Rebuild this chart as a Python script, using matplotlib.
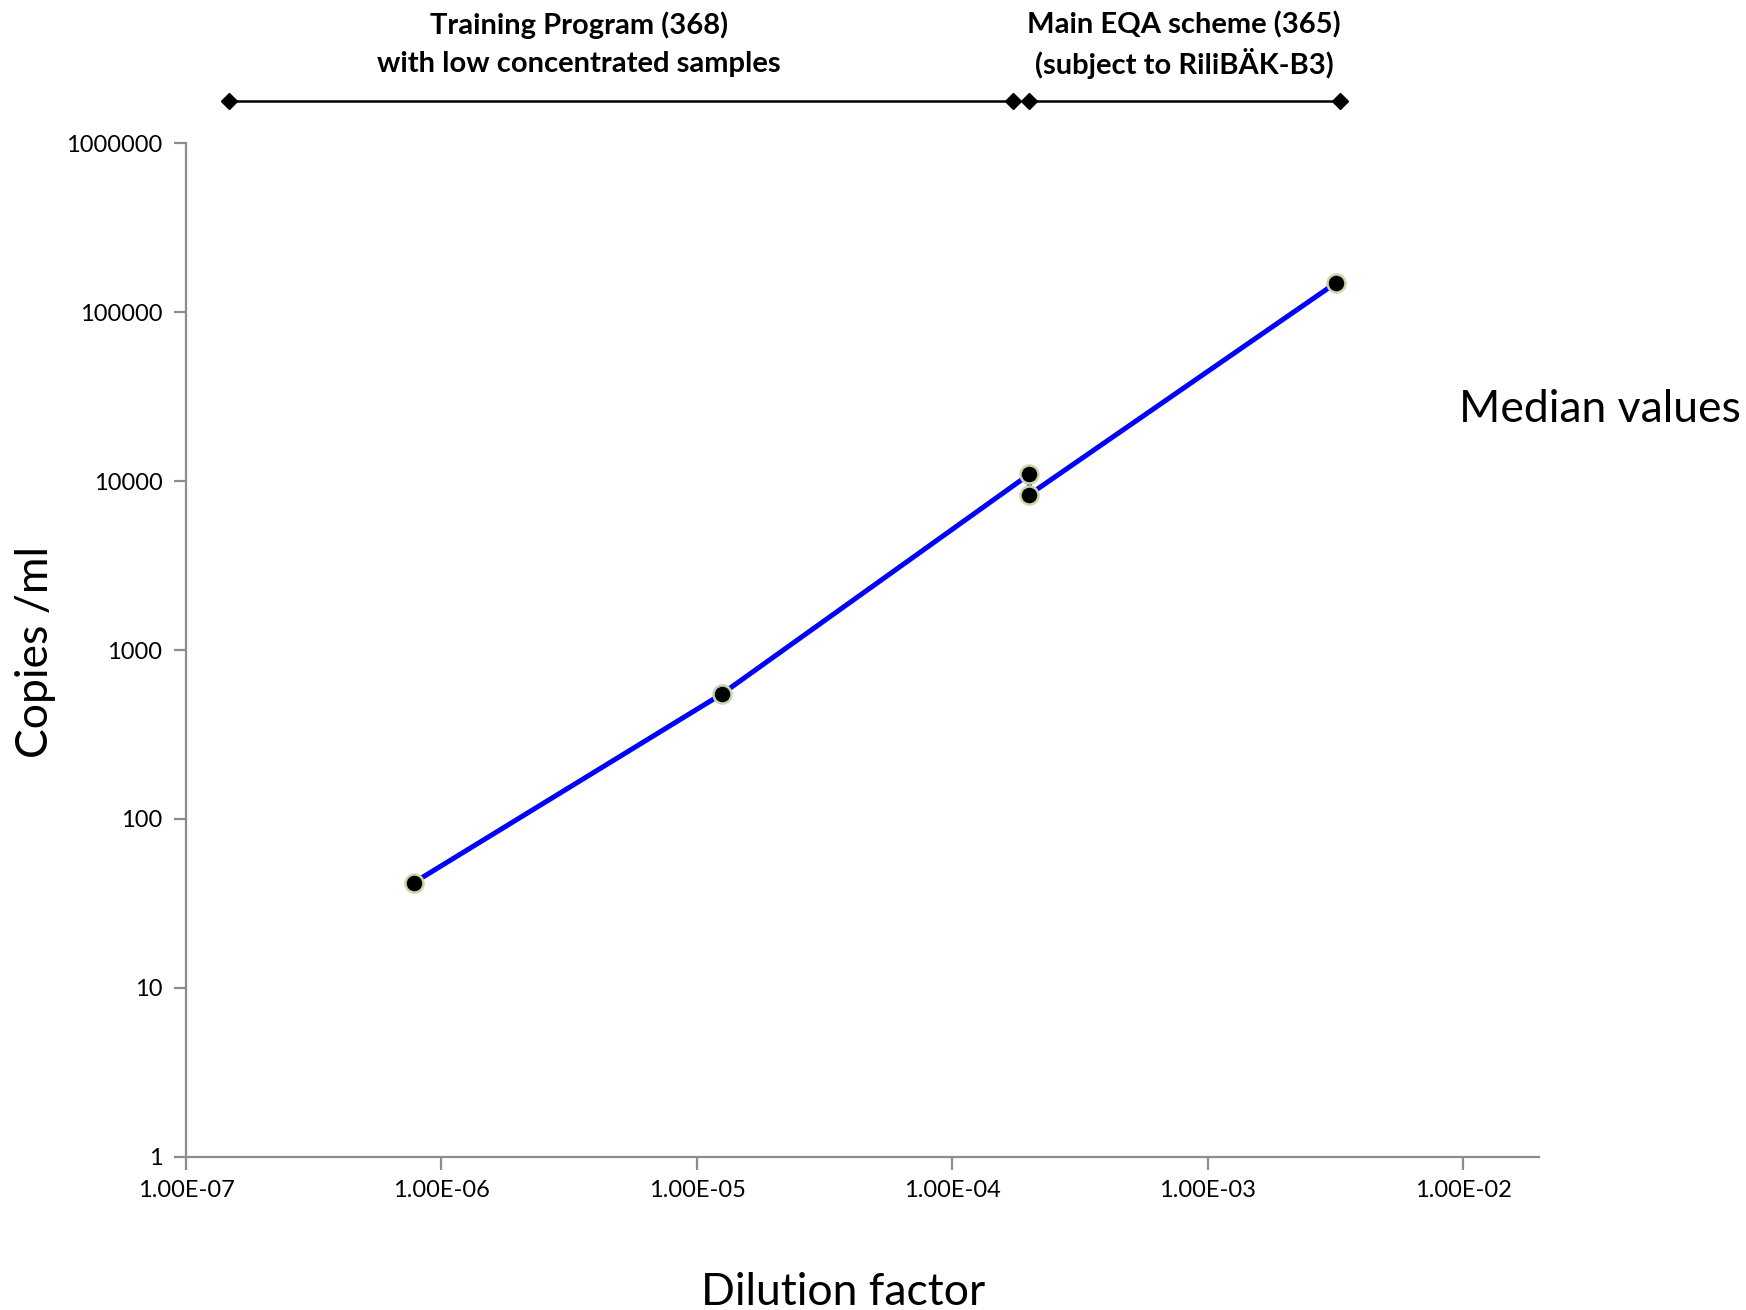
import matplotlib
matplotlib.use('Agg')
import matplotlib.pyplot as plt
import matplotlib.transforms as mtransforms

plt.rcParams['font.family'] = ['Lato', 'DejaVu Sans']

# median values (dilution factor vs copies/ml)
dilution = [7.8e-7, 1.25e-5, 2.0e-4, 2.0e-4, 3.18e-3]
copies = [42, 549, 11000, 8330, 150000]

# ranges of the two programmes shown above the plot
ranges = [(1.47e-7, 1.73e-4), (2.0e-4, 3.28e-3)]
range_titles = [('Training Program (368)', 'with low concentrated samples'),
                ('Main EQA scheme (365)', '(subject to RiliBÄK-B3)')]
title_x = [3.46e-6, 8.05e-4]

xticks = [1e-7, 1e-6, 1e-5, 1e-4, 1e-3, 1e-2]
yticks = [1, 10, 100, 1000, 10000, 100000, 1000000]

fig = plt.figure(figsize=(17.46, 13.10), dpi=100)
ax = fig.add_axes([0.1065, 0.117, 0.775, 0.7735])

ax.plot(dilution, copies, color='#0000ff', lw=3.6, zorder=2)
ax.plot(dilution, copies, ls='none', marker='o', ms=13, mfc='black',
        mec='#c8d8a8', mew=1.8, zorder=3)

ax.set_xscale('log')
ax.set_yscale('log')
ax.set_xlim(1e-7, 10 ** -1.704)
ax.set_ylim(1, 1e6)
ax.set_xticks(xticks)
ax.set_xticklabels(['%.2E' % v for v in xticks])
ax.set_yticks(yticks)
ax.set_yticklabels([str(v) for v in yticks])
ax.minorticks_off()

grey = '#8c8c8c'
for side in ['top', 'right']:
    ax.spines[side].set_visible(False)
for side in ['left', 'bottom']:
    ax.spines[side].set_color(grey)
    ax.spines[side].set_linewidth(1.6)
ax.tick_params(axis='both', colors=grey, length=9, width=1.6, labelsize=17,
               labelcolor='black', direction='out', pad=8)
ax.tick_params(axis='y', pad=8)

fig.text(0.483, 0.0135, 'Dilution factor', fontsize=32, ha='center', va='center')
fig.text(0.0204, 0.502, 'Copies /ml', fontsize=32, ha='center', va='center',
         rotation=90)

# bars above the axes
trans = mtransforms.blended_transform_factory(ax.transData, ax.transAxes)
ttrans = mtransforms.blended_transform_factory(ax.transData, fig.transFigure)
for (x0, x1), (l1, l2), xm in zip(ranges, range_titles, title_x):
    ax.plot([x0, x1], [1.042, 1.042], color='black', lw=1.8, marker='D',
            ms=8, transform=trans, clip_on=False)
    ax.text(xm, 0.981, l1, transform=ttrans, ha='center', va='center',
            fontsize=21, fontweight='bold')
    ax.text(xm, 0.9513, l2, transform=ttrans, ha='center', va='center',
            fontsize=21, fontweight='bold')

fig.text(0.8355, 0.6875, 'Median values', fontsize=32, ha='left', va='center')

fig.savefig('out.png', dpi=100)
